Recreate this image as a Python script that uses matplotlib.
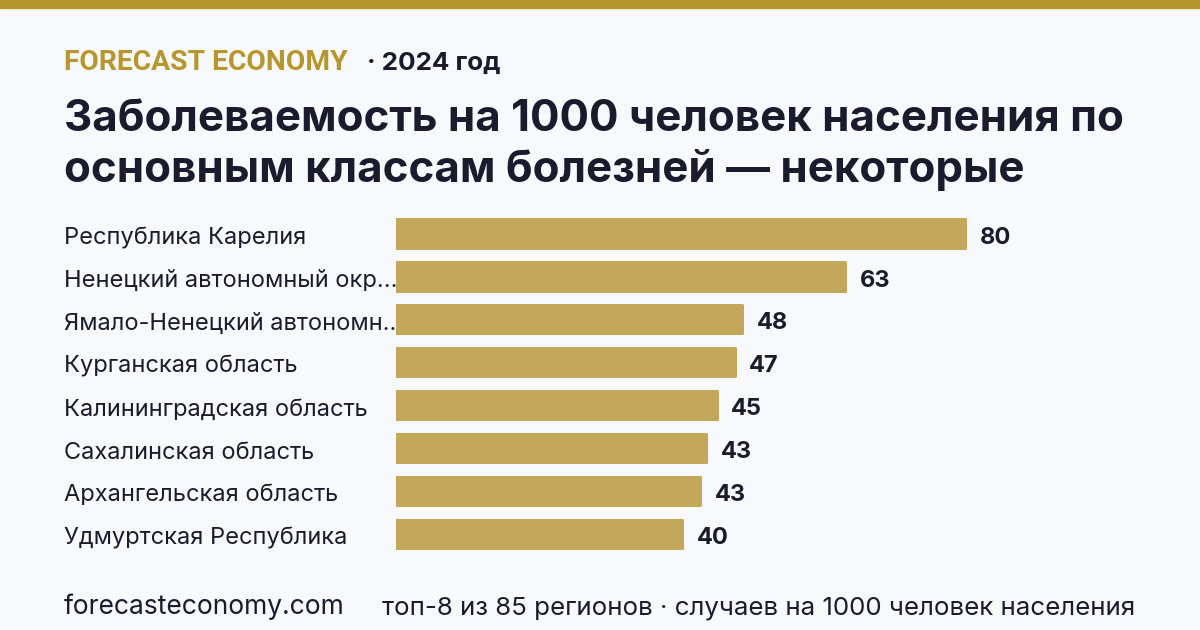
import matplotlib
matplotlib.use("Agg")
import matplotlib.pyplot as plt
from matplotlib.transforms import blended_transform_factory

# -----------------------------
# data
# -----------------------------
regions = [
    "Республика Карелия",
    "Ненецкий автономный окр...",
    "Ямало-Ненецкий автономн...",
    "Курганская область",
    "Калининградская область",
    "Сахалинская область",
    "Архангельская область",
    "Удмуртская Республика",
]
# bar lengths (labels show them rounded)
values = [79.6, 62.8, 48.4, 47.4, 44.9, 43.4, 42.6, 40.1]

brand = "FORECAST ECONOMY"
year_text = "· 2024 год"
title_lines = [
    "Заболеваемость на 1000 человек населения по",
    "основным классам болезней — некоторые",
]
footer_left = "forecasteconomy.com"
footer_right = "топ-8 из 85 регионов · случаев на 1000 человек населения"

# -----------------------------
# style
# -----------------------------
BG = "#F8F9FC"
GOLD = "#B8962E"
BAR = "#C4A85A"
DARK = "#1C1B2E"
W, H = 1200, 630

plt.rcParams["font.family"] = ["Inter", "DejaVu Sans"]

fig = plt.figure(figsize=(12, 6.3), dpi=100, facecolor=BG)

def px(x, y):
    return x / W, 1 - y / H

# top stripe
fig.patches.append(plt.Rectangle((0, 1 - 8 / H), 1, 8 / H, transform=fig.transFigure,
                                 color=GOLD, zorder=0))

# header
fig.text(*px(64, 70), brand, family=["Roboto", "DejaVu Sans"], fontsize=20.3,
         fontweight="bold", color=GOLD, va="baseline")
fig.text(*px(367, 70), year_text, fontsize=18.7, fontweight="bold", color=DARK, va="baseline")

# title
fig.text(*px(64, 131), title_lines[0], fontsize=31.6, fontweight="bold", color=DARK, va="baseline")
fig.text(*px(64, 182), title_lines[1], fontsize=31.6, fontweight="bold", color=DARK, va="baseline")

# -----------------------------
# bars
# -----------------------------
pitch = 42.9
top_px = 233.5 - pitch / 2
ax_h = pitch * len(values)
ax = fig.add_axes([395.5 / W, 1 - (top_px + ax_h) / H, 715.5 / W, ax_h / H])
ax.set_facecolor("none")
ax.set_zorder(2)
ypos = list(range(len(values)))
ax.barh(ypos, values, height=0.66, color=BAR, edgecolor=BAR, linewidth=2.2,
        joinstyle="round", zorder=3)
ax.set_xlim(0, 100)
ax.set_ylim(len(values) - 0.5, -0.5)
ax.axis("off")

for i, v in enumerate(values):
    ax.annotate(f"{v:.0f}", (v, i), xytext=(10.5, -7.3), textcoords="offset points",
                fontsize=17, fontweight="bold", color=DARK, va="baseline", ha="left")

lab_tr = blended_transform_factory(fig.transFigure, ax.transData)
for i, name in enumerate(regions):
    ax.annotate(name, (64 / W, i), xycoords=lab_tr, xytext=(0, -7.6),
                textcoords="offset points", fontsize=17, color=DARK,
                va="baseline", ha="left", zorder=1, annotation_clip=False)

# footer
fig.text(*px(64, 614), footer_left, fontsize=19, color=DARK, va="baseline")
fig.text(*px(1135, 614), footer_right, fontsize=18.65, color=DARK, va="baseline", ha="right")

fig.savefig("out.png", dpi=100, facecolor=BG)
